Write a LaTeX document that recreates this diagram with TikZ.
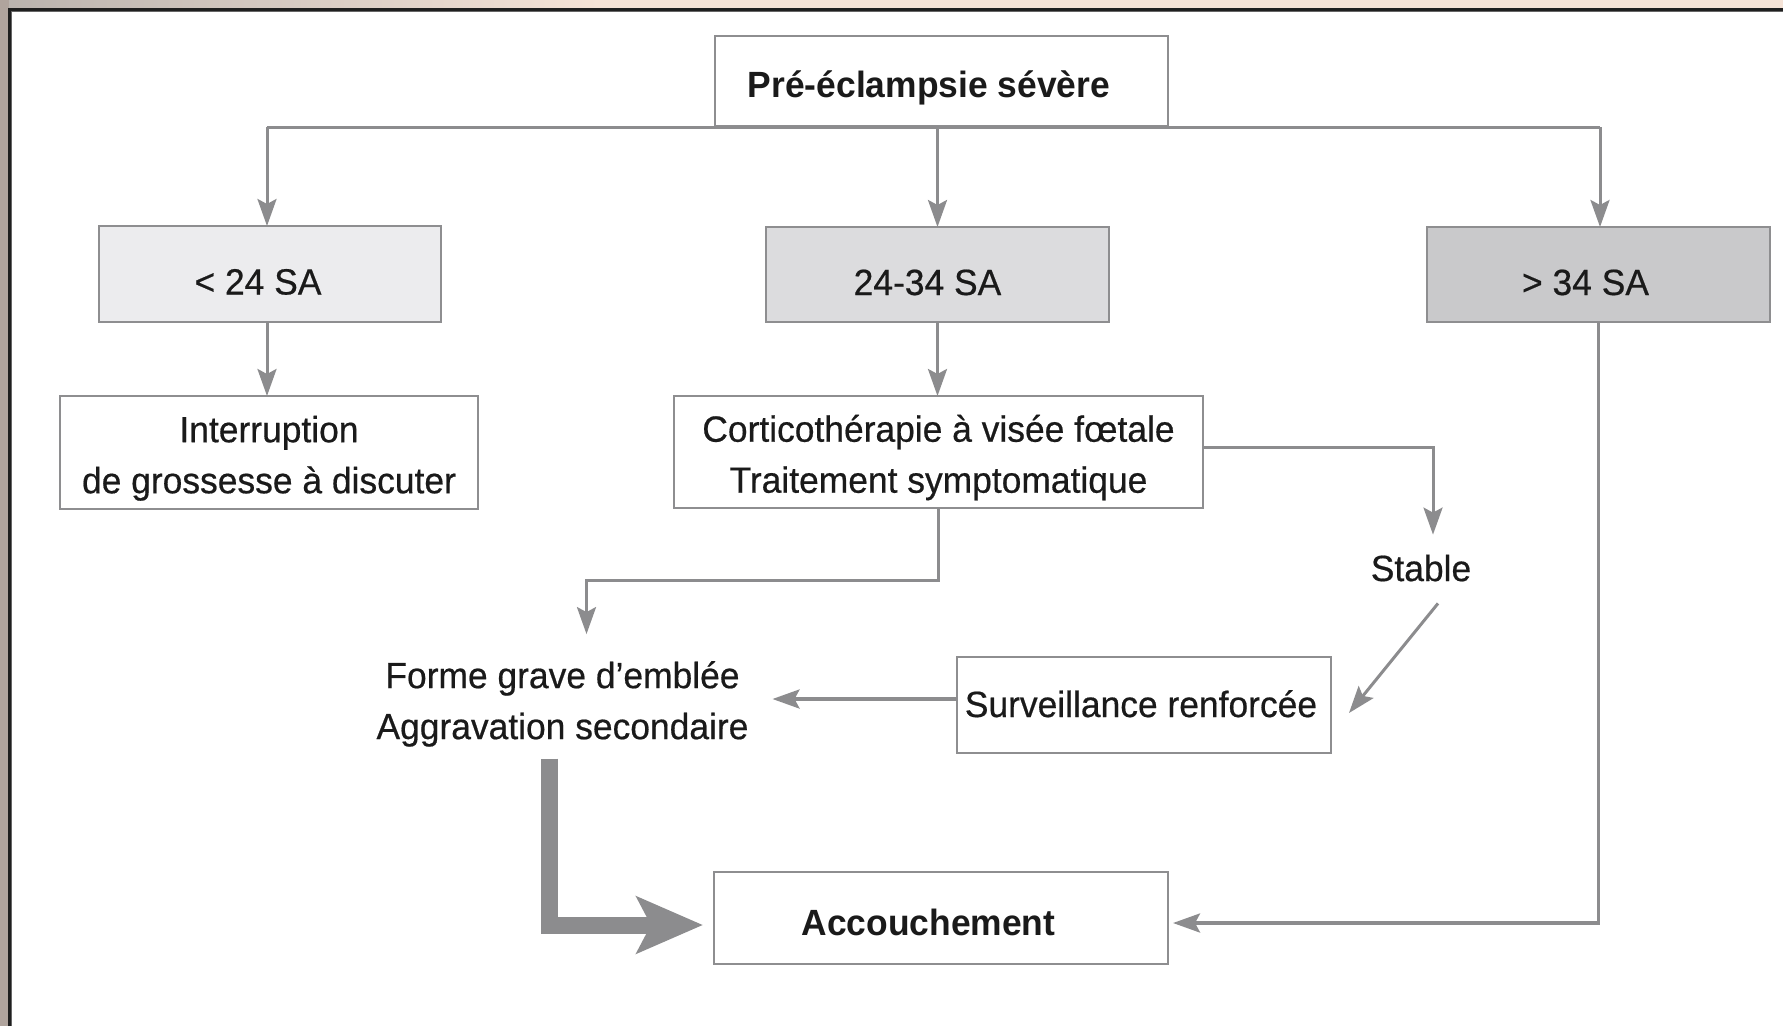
\documentclass[tikz,border=0pt]{standalone}
\usepackage{fontspec}
\setmainfont{Liberation Sans}[FakeStretch=0.97,UprightFeatures={FakeBold=0.5}]
\usetikzlibrary{arrows.meta}
\definecolor{lc}{HTML}{8C8C8E}
\definecolor{bc}{HTML}{8E8E90}
\definecolor{g1}{HTML}{ECECEE}
\definecolor{g2}{HTML}{DCDCDE}
\definecolor{g3}{HTML}{C9C9CB}
\definecolor{band}{HTML}{B0A49D}
\definecolor{bandtop}{HTML}{BAB3AE}
\definecolor{peach}{HTML}{F5E3D7}
\definecolor{ink}{HTML}{1A1A1A}
\newcommand\dfont{\fontsize{36.5pt}{51pt}\selectfont}
\begin{document}
\begin{tikzpicture}[x=1pt,y=-1pt,
  box/.style={draw=bc,line width=2.6pt,fill=white,inner sep=0pt,outer sep=0pt,font=\dfont,align=center,text=ink},
  sbox/.style={box,text height=34pt,text depth=0pt},
  txt/.style={inner sep=0pt,outer sep=0pt,font=\dfont,align=center,text=ink},
  conn/.style={draw=lc,line width=3pt},
  arr/.style={conn,-{Stealth[length=27pt,width=19pt,inset=5pt]}},
  bigarr/.style={draw=lc,line width=17pt,line join=miter,-{Stealth[length=66pt,width=56pt,inset=14pt]}}
]
\useasboundingbox (0,0) rectangle (1783,1026);
% frame
\fill[white] (0,0) rectangle (1783,1026);
\shade[left color=bandtop,right color=peach] (0,0) rectangle (600,8.5);
\fill[peach] (600,0) rectangle (1783,8.5);
\fill[band] (0,0) rectangle (8.5,1026);
\draw[black!60,line width=1pt] (11.8,1026) -- (11.8,11.8) -- (1783,11.8);
\draw[black!88,line width=2.4pt] (9.6,1026) -- (9.6,9.6) -- (1783,9.6);

% nodes
\node[sbox,minimum width=453pt,minimum height=90pt,text height=32pt] (pre) at (941.5,81) {{\bfseries Pré-éclampsie sévère}\hspace*{25pt}};
\node[sbox,fill=g1,minimum width=342pt,minimum height=96pt,text height=41pt] (lt) at (270,274) {< 24 SA\hspace*{24pt}};
\node[sbox,fill=g2,minimum width=343pt,minimum height=95pt,text height=41pt] (mid) at (937.5,274.5) {24-34 SA\hspace*{20pt}};
\node[sbox,fill=g3,minimum width=343pt,minimum height=95pt,text height=41pt] (gt) at (1598.5,274.5) {> 34 SA\hspace*{26pt}};
\node[box,minimum width=418pt,minimum height=113pt] (intr) at (269,452.5) {\rule{0pt}{38pt}Interruption\\de grossesse à discuter};
\node[box,minimum width=529pt,minimum height=112pt] (cort) at (938.5,452) {\rule{0pt}{38pt}Corticothérapie à visée fœtale\\Traitement symptomatique};
\node[txt] (stab) at (1421,568) {Stable};
\node[txt] (forme) at (562.5,698.4) {\rule{0pt}{38pt}Forme grave d’emblée\\Aggravation secondaire};
\node[sbox,minimum width=374pt,minimum height=96pt,text height=24pt] (surv) at (1144,705) {Surveillance renforcée\hspace*{6pt}};
\node[sbox,minimum width=454pt,minimum height=92pt,text height=34pt] (acc) at (941,918) {{\bfseries Accouchement}\hspace*{25pt}};

% connectors
\coordinate (busL) at (267,127);
\coordinate (busR) at (1600,127);
\draw[conn] (busL) -- (busR);
\draw[arr] (busL) -- (busL |- lt.north);
\draw[arr] (mid.north |- pre.south) -- (mid.north);
\draw[arr] (busR) -- (busR |- gt.north);
\draw[arr] (lt.south -| busL) -- (busL |- intr.north);
\draw[arr] (mid.south) -- (mid.south |- cort.north);
\draw[arr,shorten >=20pt] ([yshift=5pt]cort.east) -| ([xshift=12pt]stab.north);
\draw[arr] ([xshift=17pt,yshift=-22pt]stab.south) -- ([xshift=18pt,yshift=-8pt]surv.east);
\draw[arr,line width=3.6pt,shorten >=24pt] ([yshift=6pt]surv.west) -- ([yshift=6pt]surv.west -| forme.east);
\draw[arr,shorten >=16pt] (cort.south) -- ++(0,72) -| ([xshift=24pt]forme.north);
\draw[arr,line width=3.6pt,shorten >=5pt] (gt.south) |- ([yshift=-5pt]acc.east);
\draw[bigarr,shorten >=11pt] ([xshift=-13.5pt,yshift=-12pt]forme.south) |- ([yshift=-7pt]acc.west);
\end{tikzpicture}
\end{document}
